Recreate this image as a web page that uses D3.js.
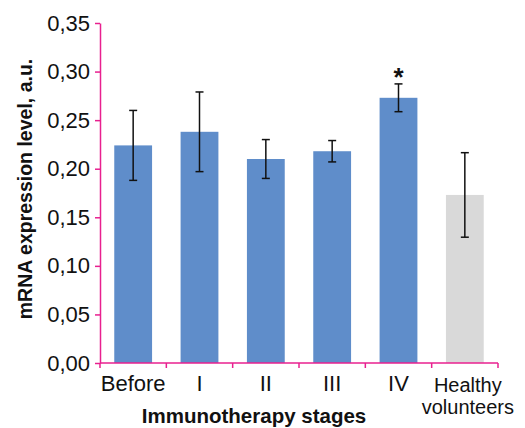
<!DOCTYPE html>
<html>
<head>
<meta charset="utf-8">
<script src="https://cdn.jsdelivr.net/npm/d3@7"></script>
<style>
  body { margin: 0; background: #fff; }
  svg text { font-family: "Liberation Sans Narrow", "Arial Narrow", "Liberation Sans", sans-serif; fill: #111; }
</style>
</head>
<body>
<svg id="chart" width="525" height="428"></svg>
<script>
// data
const categories = ["Before", "I", "II", "III", "IV", "Healthy volunteers"];
const values = [0.224, 0.238, 0.210, 0.218, 0.273, 0.173];
const errors = [0.036, 0.041, 0.020, 0.011, 0.0143, 0.0435];
const significant = [false, false, false, false, true, false];
const yTicks = [0, 0.05, 0.10, 0.15, 0.20, 0.25, 0.30, 0.35];

const margin = {top: 23, right: 27, bottom: 65, left: 100};
const width = 525 - margin.left - margin.right;
const height = 428 - margin.top - margin.bottom;

const axisColor = "#e8208f";
const barColor = "#5f8dca";
const healthyColor = "#d9d9d9";

const svg = d3.select("#chart")
  .append("g")
  .attr("transform", "translate(" + margin.left + "," + margin.top + ")");

const x = d3.scaleBand().domain(categories).range([0, width]).paddingInner(0.43).paddingOuter(0.215);
const y = d3.scaleLinear().domain([0, 0.35]).range([height, 0]);

const fmt = d => d3.format(".2f")(d).replace(".", ",");

// bars
svg.selectAll(".bar")
  .data(categories)
  .enter().append("rect")
  .attr("class", "bar")
  .attr("x", d => x(d))
  .attr("width", x.bandwidth())
  .attr("y", (d, i) => y(values[i]))
  .attr("height", (d, i) => height - y(values[i]))
  .attr("fill", (d, i) => i === categories.length - 1 ? healthyColor : barColor);

// error bars
const eb = svg.selectAll(".err")
  .data(categories)
  .enter().append("g")
  .attr("class", "err")
  .attr("stroke", "#111")
  .attr("stroke-width", 1.5);
eb.append("line")
  .attr("x1", d => x(d) + x.bandwidth() / 2)
  .attr("x2", d => x(d) + x.bandwidth() / 2)
  .attr("y1", (d, i) => y(values[i] + errors[i]))
  .attr("y2", (d, i) => y(values[i] - errors[i]));
[1, -1].forEach(s => {
  eb.append("line")
    .attr("x1", d => x(d) + x.bandwidth() / 2 - 4)
    .attr("x2", d => x(d) + x.bandwidth() / 2 + 4)
    .attr("y1", (d, i) => y(values[i] + s * errors[i]))
    .attr("y2", (d, i) => y(values[i] + s * errors[i]));
});

// significance mark
svg.selectAll(".star")
  .data(categories.filter((d, i) => significant[i]))
  .enter().append("text")
  .attr("x", d => x(d) + x.bandwidth() / 2)
  .attr("y", d => { const i = categories.indexOf(d); return y(values[i] + errors[i]) + 2; })
  .attr("text-anchor", "middle")
  .style("font-size", "26px")
  .style("font-weight", "bold")
  .text("*");

// y axis
const yAxis = svg.append("g")
  .call(d3.axisLeft(y).tickValues(yTicks).tickFormat(fmt).tickSizeInner(5).tickSizeOuter(0));
yAxis.selectAll("path, line").attr("stroke", axisColor).attr("stroke-width", 1.5);
yAxis.selectAll("text").style("font-size", "22px").attr("x", -10);

// x axis with ticks at category boundaries
const xAxis = svg.append("g").attr("transform", "translate(0," + height + ")");
xAxis.append("line").attr("x1", 0).attr("x2", width).attr("stroke", axisColor).attr("stroke-width", 1.5);
const step = x.step();
xAxis.selectAll(".xt")
  .data(d3.range(categories.length + 1))
  .enter().append("line")
  .attr("x1", i => i * step).attr("x2", i => i * step)
  .attr("y1", 0).attr("y2", 5)
  .attr("stroke", axisColor).attr("stroke-width", 1.5);

// category labels, one text per line
const labelLines = [];
categories.forEach(d => {
  const words = d.split(" ");
  words.forEach((w, k) => labelLines.push({cat: d, word: w, line: k, multi: words.length > 1}));
});
xAxis.selectAll(".xl")
  .data(labelLines)
  .enter().append("text")
  .attr("class", "xl")
  .attr("x", d => x(d.cat) + x.bandwidth() / 2 + (d.multi ? 3 : 0))
  .attr("y", d => d.multi ? 29 + d.line * 22 : 28)
  .attr("text-anchor", "middle")
  .style("font-size", d => d.multi ? "20px" : "22px")
  .text(d => d.word);

// axis titles
svg.append("text")
  .attr("transform", "translate(" + (-68) + "," + (height / 2 - 4) + ") rotate(-90)")
  .attr("text-anchor", "middle")
  .style("font-size", "19.5px")
  .style("font-weight", "bold")
  .text("mRNA expression level, a.u.");

svg.append("text")
  .attr("x", 154)
  .attr("y", height + 60)
  .attr("text-anchor", "middle")
  .style("font-size", "20.5px")
  .style("font-weight", "bold")
  .text("Immunotherapy stages");
</script>
</body>
</html>
